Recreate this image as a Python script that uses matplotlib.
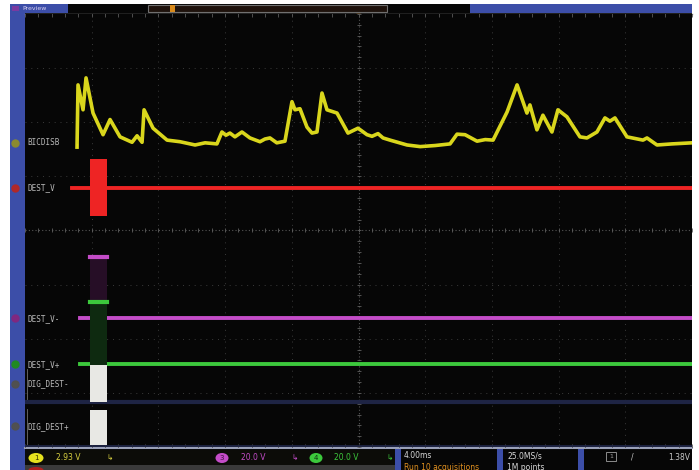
"""
Scope capture: BICDISB current trace with DEST_V / DEST_V- / DEST_V+ and
the two DIG_DEST digital lines, 4 ms/div.
"""
import matplotlib.pyplot as plt
from matplotlib.patches import Rectangle, Ellipse, FancyBboxPatch
import numpy as np

# ---- channel data (time in ms, level in divisions) ----
ch1_t = [-16.88, -16.82, -16.52, -16.34, -15.92, -15.32, -14.90, -14.30, -13.58,
         -13.28, -12.98, -12.86, -12.32, -11.48, -10.70, -9.80, -9.20, -8.49,
         -8.19, -7.95, -7.71, -7.41, -6.99, -6.51, -5.91, -5.61, -5.31, -4.90,
         -4.41, -3.99, -3.81, -3.51, -3.09, -2.79, -2.49, -2.19, -1.89, -1.29,
         -0.63, -0.03, 0.51, 0.81, 1.17, 1.47, 1.89, 2.91, 3.70, 4.60, 5.49,
         5.91, 6.39, 7.11, 7.60, 8.07, 8.91, 9.51, 10.10, 10.28, 10.70, 11.06,
         11.60, 11.96, 12.50, 13.28, 13.70, 14.30, 14.78, 15.08, 15.38, 16.10,
         17.06, 17.30, 17.90, 18.80, 20.0]
ch1_div = [1.54, 2.69, 2.23, 2.82, 2.17, 1.77, 2.05, 1.73, 1.63,
           1.75, 1.63, 2.23, 1.89, 1.67, 1.64, 1.58, 1.62, 1.60,
           1.82, 1.76, 1.80, 1.73, 1.82, 1.71, 1.64, 1.69, 1.71, 1.62,
           1.65, 2.38, 2.23, 2.25, 1.91, 1.80, 1.82, 2.54, 2.23, 2.17,
           1.80, 1.89, 1.77, 1.74, 1.79, 1.71, 1.67, 1.58, 1.55, 1.57, 1.60,
           1.78, 1.77, 1.65, 1.68, 1.67, 2.19, 2.69, 2.17, 2.32, 1.86, 2.13,
           1.82, 2.23, 2.10, 1.73, 1.71, 1.82, 2.08, 2.02, 2.08, 1.73,
           1.67, 1.71, 1.58, 1.60, 1.62]

ch2_level = 0.79          # DEST_V
ch3_level = -1.62         # DEST_V-
ch4_level = -2.47         # DEST_V+
burst_t = (-16.10, -15.08)
ch2_burst = (0.27, 1.32)
ch3_mark = -0.49
ch4_mark = -1.32
dig_hi = [(-3.17, -2.49), (-3.97, -3.32)]
dig_sep = -3.17

status = {'ch1': '2.93 V', 'ch3': '20.0 V', 'ch4': '20.0 V',
          'hor': '4.00ms', 'rate': '25.0MS/s', 'pts': '1M points',
          'trig': '1.38V'}

YEL = '#e6e21e'
RED = '#ee2424'
MAG = '#c44cc8'
GRN = '#3cc83c'
BLU = '#3c4ea8'
LBL = '#b8b8b8'

W, H = 699, 470
fig = plt.figure(figsize=(W / 100, H / 100), dpi=100, facecolor='white')

# pixel overlay for the instrument frame
ov = fig.add_axes([0, 0, 1, 1])
ov.set_xlim(0, W)
ov.set_ylim(H, 0)
ov.axis('off')
ov.add_patch(Rectangle((10, 4), 682, 466, fc='#060606', ec='none'))
ov.add_patch(Rectangle((10, 4), 15, 466, fc=BLU, ec='none'))
# top bar
ov.add_patch(Rectangle((10, 4), 58, 9, fc=BLU, ec='none'))
ov.add_patch(Rectangle((12, 6), 7, 5, fc='#7a3aa0', ec='none'))
ov.text(22, 8.5, 'Preview', color='#d8d0f0', fontsize=4.5, va='center',
        family='DejaVu Sans')
ov.add_patch(Rectangle((148, 5), 239, 7, fc='#1e120c', ec='#707070', lw=0.8))
ov.add_patch(Rectangle((470, 4), 222, 9, fc=BLU, ec='none'))
ov.add_patch(Rectangle((170, 5), 5, 7, fc='#d88a1c', ec='none'))
ov.plot([25, 692], [13.5, 13.5], color='#8a8a8a', lw=1.0)
ov.plot([357.5], [15.5], 's', color='#e08a20', ms=2.5)
ov.add_patch(FancyBboxPatch((87, 18), 6, 9, boxstyle='round,pad=0.5',
                            fc='#d88a1c', ec='none'))
ov.text(90, 22.5, 'T', color='#3a2200', fontsize=4, ha='center', va='center')

# status bar
ov.plot([25, 692], [448, 448], color='#9aa0b8', lw=1.5)
ov.add_patch(Rectangle((25, 450), 373, 15, fc='#0c0c08', ec='none'))
ov.add_patch(Rectangle((25, 465), 373, 5, fc='#3a3a3a', ec='none'))
for x0 in (395, 497, 578):
    ov.add_patch(Rectangle((x0, 449), 6, 21, fc=BLU, ec='none'))
ov.add_patch(Ellipse((36, 458), 15, 10, fc=YEL, ec='none'))
ov.text(36, 458, '1', fontsize=5, ha='center', va='center', color='#303000')
ov.text(56, 458, status['ch1'], fontsize=5.5, color='#d8d040', va='center')
ov.text(106, 458, '↳', fontsize=5.5, color='#d8d040', va='center')
ov.add_patch(Ellipse((36, 470), 15, 6, fc='#b02020', ec='none'))
ov.add_patch(Ellipse((222, 458), 13, 10, fc=MAG, ec='none'))
ov.text(222, 458, '3', fontsize=5, ha='center', va='center', color='#401040')
ov.text(241, 458, status['ch3'], fontsize=5.5, color=MAG, va='center')
ov.text(291, 458, '↳', fontsize=5.5, color=MAG, va='center')
ov.add_patch(Ellipse((316, 458), 13, 10, fc=GRN, ec='none'))
ov.text(316, 458, '4', fontsize=5, ha='center', va='center', color='#103010')
ov.text(334, 458, status['ch4'], fontsize=5.5, color=GRN, va='center')
ov.text(386, 458, '↳', fontsize=5.5, color=GRN, va='center')
ov.text(404, 456, status['hor'], fontsize=5.5, color='#d8d8d8', va='center')
ov.text(404, 467, 'Run 10 acquisitions', fontsize=5.5, color='#e09020',
        va='center', clip_on=True)
ov.text(507, 456, status['rate'], fontsize=5.5, color='#d8d8d8', va='center')
ov.text(507, 467, status['pts'], fontsize=5.5, color='#d8d8d8', va='center')
ov.add_patch(Rectangle((606, 452), 10, 9, fc='none', ec='#a0a0a0', lw=0.6))
ov.text(611, 456.5, '1', fontsize=4.5, color='#a0a0a0', ha='center',
        va='center')
ov.text(631, 457, '/', fontsize=5.5, color='#c8c8c8', va='center')
ov.text(690, 457, status['trig'], fontsize=5.5, color='#c8c8c8',
        va='center', ha='right')

# graticule with the traces
ax = fig.add_axes([25 / W, (H - 447) / H, 667 / W, 433 / H])
ax.set_facecolor('#060606')
ax.set_xlim(-20, 20)
ax.set_ylim(-4, 4)
for s in ax.spines.values():
    s.set_visible(False)
ax.set_xticks([])
ax.set_yticks([])
gz = 0.5   # graticule stays behind all traces
for xv in np.arange(-16, 20, 4):
    if xv != 0:
        ax.axvline(xv, color='#3a3a3a', lw=0.7, ls=(0, (1, 5)), zorder=gz)
for yv in range(-3, 4):
    if yv != 0:
        ax.axhline(yv, color='#3a3a3a', lw=0.7, ls=(0, (1, 5)), zorder=gz)
ax.axvline(0, color='#555555', lw=0.8, ls=(0, (1, 2)), zorder=gz)
ax.axhline(0, color='#555555', lw=0.8, ls=(0, (1, 2)), zorder=gz)
minor_x = np.arange(-20, 20.01, 0.8)
minor_y = np.arange(-4, 4.01, 0.2)
ax.plot(minor_x, np.zeros_like(minor_x), '|', color='#606060', ms=3, mew=0.6,
        zorder=gz)
ax.plot(np.zeros_like(minor_y), minor_y, '_', color='#606060', ms=3, mew=0.6,
        zorder=gz)
ax.plot(minor_x, np.full_like(minor_x, 3.98), '|', color='#5a5a5a', ms=3,
        mew=0.6, zorder=gz)
ax.plot(minor_x, np.full_like(minor_x, -3.98), '|', color='#5a5a5a', ms=3,
        mew=0.6, zorder=gz)

# analog channels
ax.plot([ch1_t[0], ch1_t[0]], [1.60, ch1_div[0]], color=YEL, lw=1.0)
ax.plot(ch1_t, ch1_div, color=YEL, lw=2.6, alpha=0.95, solid_joinstyle='round')
ax.plot([-17.2, 20], [ch2_level, ch2_level], color=RED, lw=2.8)
ax.add_patch(Rectangle((burst_t[0], ch2_burst[0]), burst_t[1] - burst_t[0],
                       ch2_burst[1] - ch2_burst[0], fc=RED, ec='none'))
ax.plot([-16.7, 20], [ch3_level, ch3_level], color=MAG, lw=2.8)
ax.plot([-16.7, 20], [ch4_level, ch4_level], color=GRN, lw=2.8)
ax.add_patch(Rectangle((burst_t[0], ch4_mark), burst_t[1] - burst_t[0],
                       ch3_mark - ch4_mark, fc='#260e26', ec='none', zorder=2.5))
ax.add_patch(Rectangle((burst_t[0], ch4_level - 0.02), burst_t[1] - burst_t[0],
                       ch4_mark - ch4_level, fc='#0e2a10', ec='none', zorder=2.5))
ax.plot(burst_t, [ch3_mark, ch3_mark], color=MAG, lw=3, zorder=3)
ax.plot(burst_t, [ch4_mark, ch4_mark], color=GRN, lw=3, zorder=3)

# digital channels
ax.axhline(dig_sep, color='#1e2444', lw=3)
ax.axhline(-3.99, color='#1e2444', lw=2)
for lo, hi in dig_hi:
    ax.add_patch(Rectangle((burst_t[0], lo), burst_t[1] - burst_t[0], hi - lo,
                           fc='#e8e8e4', ec='none', zorder=3))

# channel labels and left markers
labels = [('BICDISB', 1.62, '#8a8a30'),
          ('DEST_V', ch2_level, '#b02828'),
          ('DEST_V-', ch3_level, '#802880'),
          ('DEST_V+', ch4_level, '#208a20'),
          ('DIG_DEST-', -2.83, '#505050'),
          ('DIG_DEST+', -3.62, '#505050')]
for txt, lev, mcol in labels:
    ax.text(-19.85, lev, txt, fontsize=5.5, color=LBL, va='center',
            family='DejaVu Sans Mono')
    ax.plot([-20.6], [lev], 'o', color=mcol, ms=5, clip_on=False)
ax.plot([-19.9, -19.9], [-2.55, -3.12], color='#707070', lw=0.6)
ax.plot([-19.9, -19.9], [-3.3, -3.95], color='#707070', lw=0.6)

fig.savefig('out.png', dpi=100, facecolor='white')
